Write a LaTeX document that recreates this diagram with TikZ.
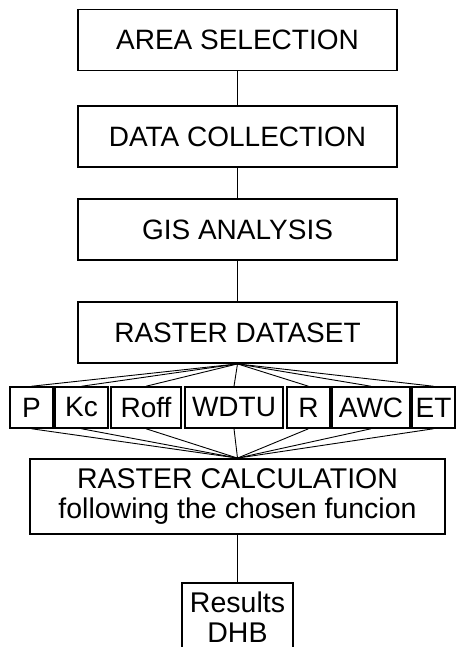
\documentclass[tikz,border=0pt]{standalone}
\usepackage{fontspec}
\setmainfont{Liberation Sans}
\begin{document}
\begin{tikzpicture}[x=1pt,y=-1pt,
  bigbox/.style={draw, line width=1.8pt, inner sep=0pt, minimum width=319pt, minimum height=61pt, font=\fontsize{28}{31}\selectfont, align=center},
  smallbox/.style={draw, line width=1.5pt, inner sep=0pt, minimum height=41pt, font=\fontsize{28}{31}\selectfont},
  link/.style={line width=1.2pt},
  fan/.style={line width=0.9pt}]
\clip (0,0) rectangle (456,647);
\fill[white] (0,0) rectangle (456,647);
\node[bigbox] (area) at (237.5,40) {AREA SELECTION};
\node[bigbox] (data) at (237.5,136.5) {DATA COLLECTION};
\node[bigbox] (gis) at (237.5,229.5) {GIS ANALYSIS};
\node[bigbox] (raster) at (237.5,332.5) {RASTER DATASET};
\node[smallbox, minimum width=43pt] (p) at (31.5,407.5) {P};
\node[smallbox, minimum width=53pt] (kc) at (81.5,407.5) {Kc};
\node[smallbox, minimum width=70pt] (roff) at (146,407.5) {Roff};
\node[smallbox, minimum width=98pt] (wdtu) at (234,407.5) {WDTU};
\node[smallbox, minimum width=43pt] (r) at (308.5,407.5) {R};
\node[smallbox, minimum width=78pt] (awc) at (371,407.5) {AWC};
\node[smallbox, minimum width=43pt] (et) at (433.5,407.5) {ET};
\node[bigbox, minimum width=415pt, minimum height=75pt, font=\fontsize{28.5}{30}\selectfont] (calc) at (237.5,496.5) {RASTER CALCULATION\\following the chosen funcion};
\node[bigbox, minimum width=111pt, minimum height=68pt, font=\fontsize{28.5}{30}\selectfont] (res) at (237.5,617) {Results\\DHB};
\draw[link] (area) -- (data);
\draw[link] (data) -- (gis);
\draw[link] (gis) -- (raster);
\draw[link] (calc) -- (res);
\foreach \n in {p,kc,roff,wdtu,r,awc,et}{
  \draw[fan] (raster.south) -- (\n.north);
  \draw[fan] (\n.south) -- (calc.north);
}
\end{tikzpicture}
\end{document}
